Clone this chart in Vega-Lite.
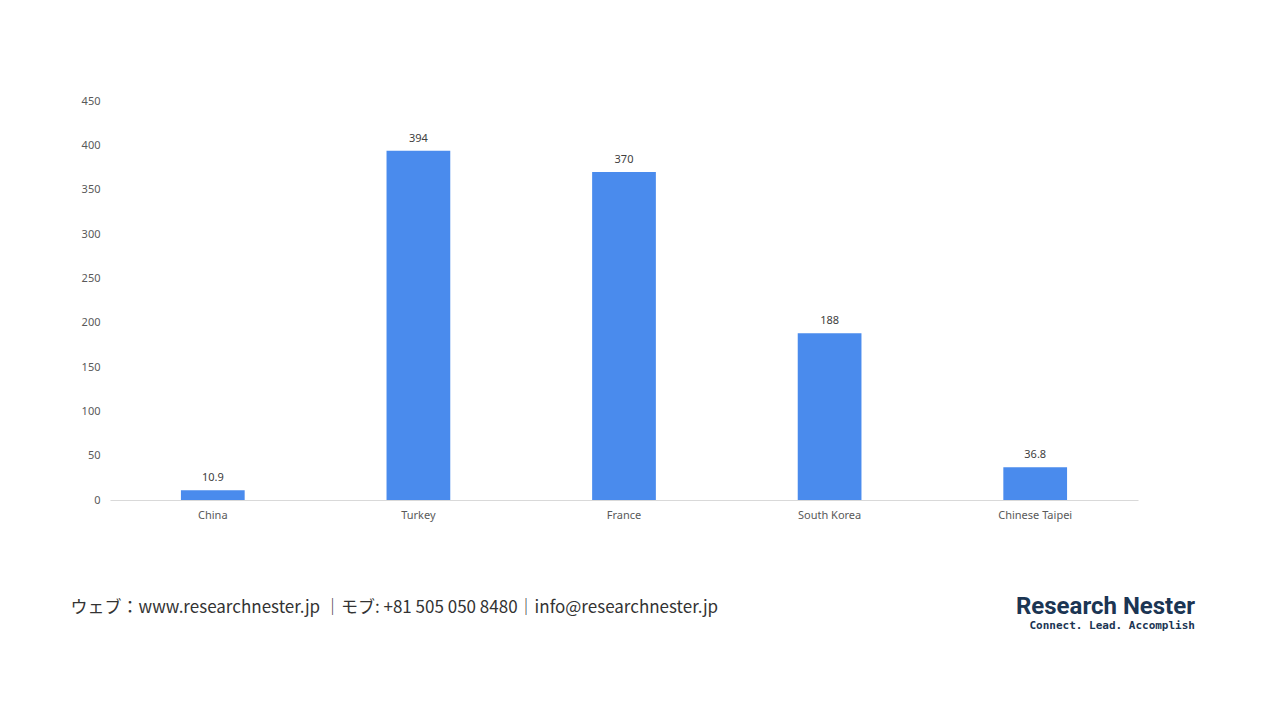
{
  "$schema": "https://vega.github.io/schema/vega-lite/v6.json",
  "width": 1028,
  "height": 399,
  "autosize": {"type": "none"},
  "padding": {"left": 110, "top": 101, "right": 142, "bottom": 220},
  "background": "#ffffff",
  "config": {
    "view": {"stroke": null},
    "font": "Noto Sans"
  },
  "title": {
    "text": "Research Nester",
    "subtitle": "Connect. Lead. Accomplish",
    "orient": "bottom",
    "anchor": "end",
    "dx": 57,
    "offset": -20,
    "font": "Roboto",
    "fontSize": 24,
    "fontWeight": "bold",
    "color": "#1b3553",
    "subtitleFont": "DejaVu Sans Mono",
    "subtitleFontSize": 11,
    "subtitleFontWeight": "bold",
    "subtitleColor": "#1b3553",
    "subtitlePadding": 1
  },
  "data": {
    "values": [
      {"country": "China", "value": 10.9, "label": "10.9"},
      {"country": "Turkey", "value": 394, "label": "394"},
      {"country": "France", "value": 370, "label": "370"},
      {"country": "South Korea", "value": 188, "label": "188"},
      {"country": "Chinese Taipei", "value": 36.8, "label": "36.8"}
    ]
  },
  "encoding": {
    "x": {
      "field": "country",
      "type": "nominal",
      "sort": null,
      "scale": {"paddingInner": 0.69, "paddingOuter": 0.345},
      "axis": {
        "title": "ウェブ：www.researchnester.jp ｜モブ: +81 505 050 8480｜info@researchnester.jp",
        "titleFont": "Noto Sans CJK JP",
        "titleFontSize": 17,
        "titleFontWeight": "normal",
        "titleColor": "#333333",
        "titleAnchor": "start",
        "titleAlign": "left",
        "titleX": -40,
        "titleY": 99,
        "labelAngle": 0,
        "labelFontSize": 11,
        "labelColor": "#595959",
        "labelPadding": 9,
        "ticks": false,
        "domainColor": "#d9d9d9",
        "domainWidth": 1
      }
    },
    "y": {
      "field": "value",
      "type": "quantitative",
      "scale": {"domain": [0, 450]},
      "axis": {
        "title": null,
        "values": [0, 50, 100, 150, 200, 250, 300, 350, 400, 450],
        "grid": false,
        "domain": false,
        "ticks": false,
        "labelFontSize": 11,
        "labelColor": "#595959",
        "labelPadding": 10
      }
    }
  },
  "layer": [
    {"mark": {"type": "bar", "color": "#4a8bed"}},
    {
      "mark": {"type": "text", "dy": -12, "fontSize": 11, "color": "#404040"},
      "encoding": {"text": {"field": "label"}}
    }
  ]
}
